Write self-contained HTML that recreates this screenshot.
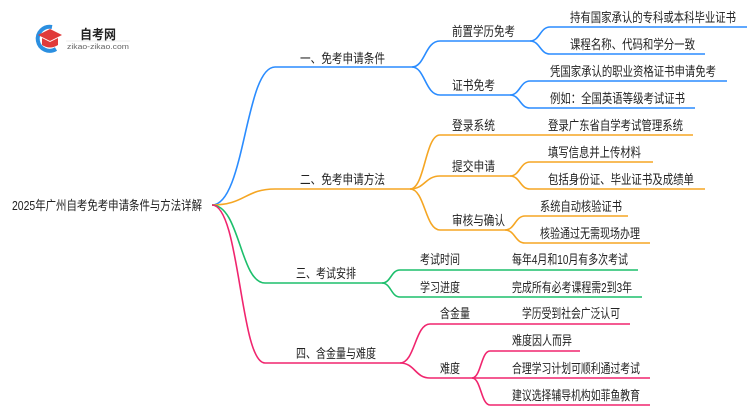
<!DOCTYPE html>
<html><head><meta charset="utf-8"><style>
html,body{margin:0;padding:0;background:#fff;}
svg{display:block;font-family:"Liberation Sans","Noto Sans CJK SC",sans-serif;}
text{font-size:13px;fill:#222;}
</style></head><body>
<svg width="750" height="410" viewBox="0 0 750 410" xmlns="http://www.w3.org/2000/svg">
<!-- logo -->
<path d="M52 27 A12 12 0 1 0 56 49" fill="none" stroke="#2b8fe0" stroke-width="4"/>
<polygon points="38,35 50,29 62,35 50,41" fill="#e03a3a"/>
<path d="M42 38 L42 45 Q50 50 58 45 L58 38 L50 42 Z" fill="#e03a3a"/>
<text x="80" y="39" style="font-size:13px;font-weight:bold" textLength="36" lengthAdjust="spacingAndGlyphs">自考网</text>
<line x1="66" y1="41" x2="130" y2="41" stroke="#ddd" stroke-width="0.6"/>
<text x="67" y="49" style="font-size:7.5px;fill:#666" textLength="62" lengthAdjust="spacingAndGlyphs">zikao-zikao.com</text>

<text x="12" y="210" textLength="190" lengthAdjust="spacingAndGlyphs">2025年广州自考免考申请条件与方法详解</text>

<g fill="none" stroke-width="1.6">
<g stroke="#2a8cff">
<path d="M212 205 C245 205 245 67 275 67 L412 67"/>
<path d="M412 67 C425 67 425 41 440 41 L530 41"/>
<path d="M412 67 C425 67 425 95 440 95 L510 95"/>
<path d="M530 41 C540 41 540 27 550 27 L747 27"/>
<path d="M530 41 C540 41 540 54 550 54 L705 54"/>
<path d="M510 95 C520 95 520 81 530 81 L727 81"/>
<path d="M510 95 C520 95 520 108 530 108 L695 108"/>
</g>
<g stroke="#f5a623">
<path d="M212 205 C245 205 245 189 275 189 L410 189"/>
<path d="M410 189 C425 189 425 135 440 135 L693 135"/>
<path d="M410 189 C425 189 425 176 440 176 L510 176"/>
<path d="M410 189 C425 189 425 230 440 230 L505 230"/>
<path d="M510 176 C520 176 520 162 530 162 L653 162"/>
<path d="M510 176 C520 176 520 189 530 189 L705 189"/>
<path d="M505 230 C515 230 515 216 525 216 L628 216"/>
<path d="M505 230 C515 230 515 243 525 243 L650 243"/>
</g>
<g stroke="#1dbf6c">
<path d="M212 205 C240 205 240 283 265 283 L382 283"/>
<path d="M382 283 C391 283 391 270 400 270 L638 270"/>
<path d="M382 283 C391 283 391 297 400 297 L642 297"/>
</g>
<g stroke="#f0256e">
<path d="M212 205 C240 205 240 363 265 363 L400 363"/>
<path d="M400 363 C415 363 415 324 430 324 L630 324"/>
<path d="M400 363 C415 363 415 378 430 378 L472 378"/>
<path d="M472 378 C481 378 481 351 490 351 L580 351"/>
<path d="M472 378 C481 378 481 378 490 378 L650 378"/>
<path d="M472 378 C481 378 481 405 490 405 L650 405"/>
</g>
</g>

<text x="300" y="63" textLength="85" lengthAdjust="spacingAndGlyphs">一、免考申请条件</text>
<text x="452" y="36" textLength="63" lengthAdjust="spacingAndGlyphs">前置学历免考</text>
<text x="570" y="22" textLength="166" lengthAdjust="spacingAndGlyphs">持有国家承认的专科或本科毕业证书</text>
<text x="570" y="49" textLength="125" lengthAdjust="spacingAndGlyphs">课程名称、代码和学分一致</text>
<text x="452" y="90" textLength="43" lengthAdjust="spacingAndGlyphs">证书免考</text>
<text x="550" y="76" textLength="166" lengthAdjust="spacingAndGlyphs">凭国家承认的职业资格证书申请免考</text>
<text x="550" y="103" textLength="135" lengthAdjust="spacingAndGlyphs">例如：全国英语等级考试证书</text>

<text x="300" y="184" textLength="85" lengthAdjust="spacingAndGlyphs">二、免考申请方法</text>
<text x="452" y="130" textLength="43" lengthAdjust="spacingAndGlyphs">登录系统</text>
<text x="548" y="130" textLength="135" lengthAdjust="spacingAndGlyphs">登录广东省自学考试管理系统</text>
<text x="452" y="171" textLength="43" lengthAdjust="spacingAndGlyphs">提交申请</text>
<text x="548" y="157" textLength="93" lengthAdjust="spacingAndGlyphs">填写信息并上传材料</text>
<text x="548" y="184" textLength="146" lengthAdjust="spacingAndGlyphs">包括身份证、毕业证书及成绩单</text>
<text x="452" y="225" textLength="53" lengthAdjust="spacingAndGlyphs">审核与确认</text>
<text x="540" y="211" textLength="82" lengthAdjust="spacingAndGlyphs">系统自动核验证书</text>
<text x="540" y="238" textLength="100" lengthAdjust="spacingAndGlyphs">核验通过无需现场办理</text>

<text x="296" y="278" textLength="60" lengthAdjust="spacingAndGlyphs">三、考试安排</text>
<text x="420" y="264" textLength="40" lengthAdjust="spacingAndGlyphs">考试时间</text>
<text x="512" y="264" textLength="116" lengthAdjust="spacingAndGlyphs">每年4月和10月有多次考试</text>
<text x="420" y="292" textLength="40" lengthAdjust="spacingAndGlyphs">学习进度</text>
<text x="512" y="292" textLength="120" lengthAdjust="spacingAndGlyphs">完成所有必考课程需2到3年</text>

<text x="296" y="358" textLength="80" lengthAdjust="spacingAndGlyphs">四、含金量与难度</text>
<text x="440" y="318" textLength="30" lengthAdjust="spacingAndGlyphs">含金量</text>
<text x="522" y="318" textLength="98" lengthAdjust="spacingAndGlyphs">学历受到社会广泛认可</text>
<text x="440" y="373" textLength="20" lengthAdjust="spacingAndGlyphs">难度</text>
<text x="512" y="345" textLength="60" lengthAdjust="spacingAndGlyphs">难度因人而异</text>
<text x="512" y="373" textLength="128" lengthAdjust="spacingAndGlyphs">合理学习计划可顺利通过考试</text>
<text x="512" y="400" textLength="128" lengthAdjust="spacingAndGlyphs">建议选择辅导机构如菲鱼教育</text>
</svg>
</body></html>
